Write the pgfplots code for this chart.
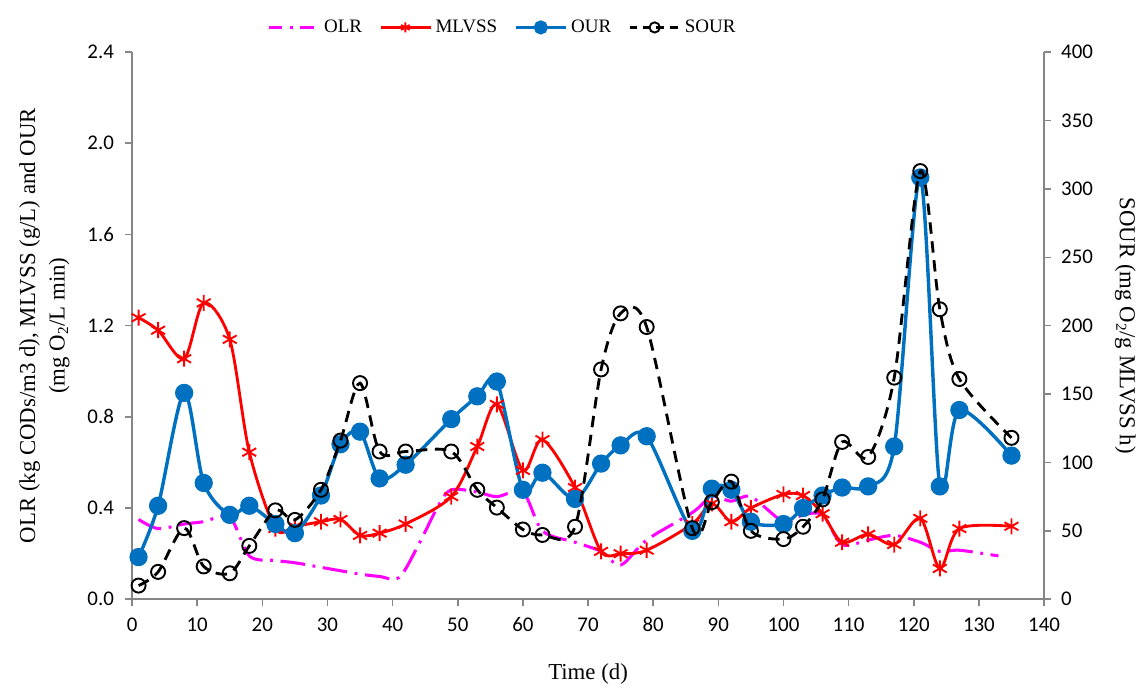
\documentclass[border=0pt]{standalone}
\usepackage{pgfplots}
\pgfplotsset{compat=1.18}
\usepackage{fontspec}
\setmainfont{Liberation Serif}
\newfontfamily\calibri{Carlito}
\definecolor{olr}{RGB}{255,0,255}
\definecolor{mlv}{RGB}{255,0,0}
\definecolor{our}{RGB}{0,112,192}
\definecolor{axgray}{RGB}{134,134,134}

\pgfplotsset{
  base/.style={width=480pt,height=288pt,scale only axis,
    xmin=0,xmax=140,
    tick align=outside, major tick length=3.5pt,
    every tick/.style={axgray, line width=0.8pt},
    axis line style={axgray, line width=0.8pt},
    tick label style={font=\calibri\fontsize{11}{13}\selectfont},
    /pgf/number format/assume math mode=true,
    clip=false,
  },
  olrsty/.style={olr, line width=1.6pt, dash pattern=on 13pt off 4pt on 1.5pt off 4pt, smooth, tension=0.5},
  mlvsty/.style={mlv, line width=1.5pt, smooth, tension=0.5, mark=asterisk, mark size=4.2pt, mark options={solid, line width=1pt}},
  oursty/.style={our, line width=1.8pt, smooth, tension=0.5, mark=*, mark size=3.9pt, mark options={solid, fill=our, draw=our}},
  soursty/.style={black, line width=1.5pt, dash pattern=on 6pt off 4pt, smooth, tension=0.5, mark=o, mark size=3.7pt, mark options={solid, fill=white, line width=1pt}},
}

\begin{document}
\begin{tikzpicture}
\begin{axis}[base,
  ymin=0, ymax=2.4,
  ytick={0,0.4,0.8,1.2,1.6,2.0,2.4},
  yticklabel style={xshift=-2.5pt, /pgf/number format/.cd,fixed,fixed zerofill,precision=1},
  xticklabel style={yshift=-2.6pt},
  xtick={0,10,...,140},
  axis x line*=bottom, axis y line*=left,
  xlabel={Time (d)},
  xlabel style={font=\fontsize{12}{14}\selectfont, at={(axis description cs:0.5,-0.137)}, anchor=center},
  ylabel={OLR (kg CODs/m3 d), MLVSS (g/L) and OUR\\(mg O\textsubscript{2}/L min)},
  every axis y label/.style={at={(axis description cs:-0.096,0.5)}, anchor=center, rotate=90, align=center, font=\fontsize{12}{15.5}\selectfont},
]
\addplot[olrsty] coordinates {
(1,0.35) (4,0.31) (8,0.33) (11,0.34) (15,0.36) (18,0.19) (22,0.17) (25,0.16) (29,0.14) (32,0.125) (35,0.11) (38,0.10) (41,0.095) (44,0.24) (47,0.41) (49,0.48) (53,0.47) (56,0.45) (60,0.47) (63,0.30) (68,0.25) (72,0.21) (75,0.15) (79,0.26) (86,0.38) (89,0.45) (92,0.43) (95,0.45) (100,0.34) (103,0.37) (106,0.37) (109,0.24) (113,0.26) (117,0.28) (121,0.25) (124,0.21) (127,0.215) (133,0.19)
};
\addplot[mlvsty] coordinates {
(1,1.235) (4,1.18) (8,1.055) (11,1.30) (15,1.14) (18,0.645) (22,0.31) (25,0.32) (29,0.34) (32,0.35) (35,0.28) (38,0.29) (42,0.33) (49,0.45) (53,0.67) (56,0.855) (60,0.565) (63,0.70) (68,0.49) (72,0.21) (75,0.20) (79,0.215) (86,0.33) (89,0.42) (92,0.34) (95,0.40) (100,0.46) (103,0.455) (106,0.375) (109,0.25) (113,0.285) (117,0.24) (121,0.355) (124,0.135) (127,0.31) (135,0.32)
};
\addplot[oursty] coordinates {
(1,0.185) (4,0.41) (8,0.905) (11,0.51) (15,0.37) (18,0.41) (22,0.33) (25,0.29) (29,0.455) (32,0.68) (35,0.735) (38,0.53) (42,0.59) (49,0.79) (53,0.89) (56,0.955) (60,0.48) (63,0.555) (68,0.44) (72,0.595) (75,0.675) (79,0.715) (86,0.30) (89,0.485) (92,0.48) (95,0.34) (100,0.33) (103,0.40) (106,0.455) (109,0.49) (113,0.495) (117,0.67) (121,1.85) (124,0.495) (127,0.83) (135,0.63)
};
\end{axis}
\begin{axis}[base,
  ymin=0, ymax=400,
  ytick={0,50,...,400},
  yticklabel style={xshift=2pt},
  axis x line=none, axis y line*=right,
  ylabel={SOUR (mg O\textsubscript{2}/g MLVSS h)},
  every axis y label/.style={at={(axis description cs:1.089,0.5)}, anchor=center, rotate=-90, font=\fontsize{12}{14}\selectfont},
  legend style={at={(axis cs:57,418)}, anchor=center, draw=none, fill=none, legend columns=4,
    font=\fontsize{10}{12}\selectfont,
    /tikz/every even column/.append style={column sep=7pt}},
  legend image code/.code={\draw[mark repeat=2,mark phase=2,#1] plot coordinates {(0cm,0cm) (0.46cm,0cm) (0.92cm,0cm)};},
]
\addlegendimage{olr, line width=1.6pt, dash pattern=on 7pt off 4pt on 1.5pt off 4pt}
\addlegendentry{OLR}
\addlegendimage{mlvsty, mark size=2.6pt}
\addlegendentry{MLVSS}
\addlegendimage{oursty, mark size=2.8pt}
\addlegendentry{OUR}
\addlegendimage{soursty, mark size=2.7pt, dash pattern=on 4pt off 3pt}
\addlegendentry{SOUR}
\addplot[soursty, forget plot] coordinates {
(1,10) (4,20) (8,52) (11,24) (15,19) (18,39) (22,65) (25,58) (29,80) (32,116) (35,158) (38,108) (42,108) (49,108) (53,80) (56,67) (60,51) (63,47) (68,53) (72,168) (75,209) (79,199) (86,52) (89,71) (92,86) (95,50) (100,44) (103,53) (106,73) (109,115) (113,104) (117,162) (121,313) (124,212) (127,161) (135,118)
};
\end{axis}
\pgfresetboundingbox
\path (-69.5pt,-45.8pt) rectangle (530.5pt,315.4pt);
\end{tikzpicture}
\end{document}
